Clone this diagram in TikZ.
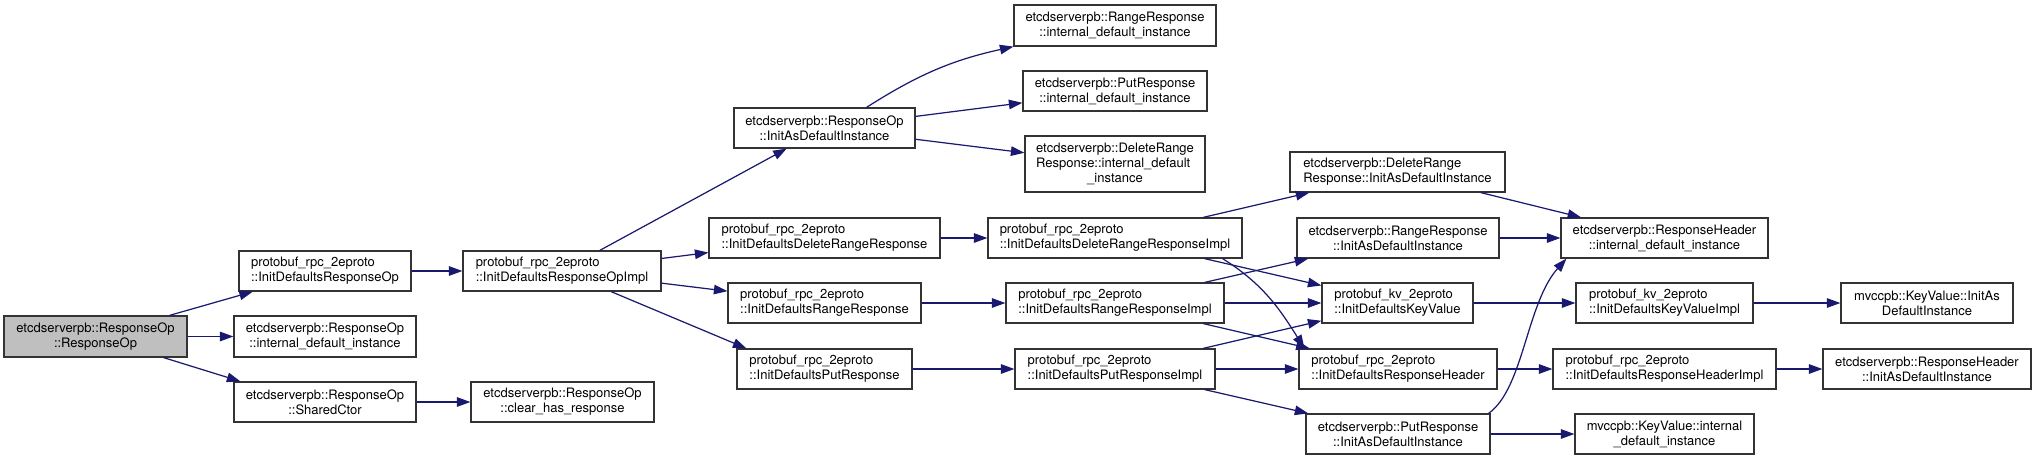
\documentclass[tikz,border=0pt]{standalone}
\usepackage{fontspec}
\setmainfont{TeX Gyre Heros}
\usetikzlibrary{arrows.meta, calc}
\definecolor{callcolor}{RGB}{25,25,112}
\definecolor{rootgray}{RGB}{191,191,191}
\tikzset{
    fnbox/.style={draw=black!80, line width=0.7pt, inner sep=0pt, align=center,
        minimum height=0.8cm, font=\fontsize{7.4}{8.5}\selectfont},
    lbox/.style={fnbox, align=left},
    call/.style={draw=callcolor, line width=0.7pt, -{Triangle[length=0.27cm, width=0.19cm]}}
}

\begin{document}
\begin{tikzpicture}[x=0.02cm, y=-0.02cm]
    \useasboundingbox (0,0) rectangle (2036,460);

    % first column
    \node[fnbox, fill=rootgray, minimum width=3.66cm, minimum height=0.82cm] (root) at (95.5,336.5) {etcdserverpb::ResponseOp\\::ResponseOp};
    \node[lbox, minimum width=3.44cm] (idRespOp) at (325,271) {protobuf\_rpc\_2eproto\\::InitDefaultsResponseOp};
    \node[fnbox, minimum width=3.64cm, minimum height=0.82cm] (rIdi) at (325,336.5) {etcdserverpb::ResponseOp\\::internal\_default\_instance};
    \node[fnbox, minimum width=3.64cm] (shared) at (325,402) {etcdserverpb::ResponseOp\\::SharedCtor};
    \node[fnbox, minimum width=3.66cm] (clear) at (562.5,402) {etcdserverpb::ResponseOp\\::clear\_has\_response};
    \node[lbox, minimum width=3.96cm] (idRespOpImpl) at (562,271) {protobuf\_rpc\_2eproto\\::InitDefaultsResponseOpImpl};

    % ResponseOp init
    \node[fnbox, minimum width=3.62cm] (rInitAs) at (824.5,128) {etcdserverpb::ResponseOp\\::InitAsDefaultInstance};
    \node[fnbox, minimum width=4.04cm, minimum height=0.82cm] (rangeIdi) at (1115,25.5) {etcdserverpb::RangeResponse\\::internal\_default\_instance};
    \node[fnbox, minimum width=3.68cm] (putIdi) at (1115,91) {etcdserverpb::PutResponse\\::internal\_default\_instance};
    \node[lbox, minimum width=3.6cm, minimum height=1.12cm] (delIdi) at (1115,164) {etcdserverpb::DeleteRange\\Response::internal\_default\\\hfill\_instance\hfill\null};

    % InitDefaults chains
    \node[lbox, minimum width=4.62cm] (idDelRR) at (824.5,238) {protobuf\_rpc\_2eproto\\::InitDefaultsDeleteRangeResponse};
    \node[lbox, minimum width=5.08cm] (idDelRRImpl) at (1115,238) {protobuf\_rpc\_2eproto\\::InitDefaultsDeleteRangeResponseImpl};
    \node[lbox, minimum width=3.86cm] (idRangeR) at (824.5,303) {protobuf\_rpc\_2eproto\\::InitDefaultsRangeResponse};
    \node[lbox, minimum width=4.36cm] (idRangeRImpl) at (1115,303) {protobuf\_rpc\_2eproto\\::InitDefaultsRangeResponseImpl};
    \node[lbox, minimum width=3.5cm] (idPutR) at (824.5,369) {protobuf\_rpc\_2eproto\\::InitDefaultsPutResponse};
    \node[lbox, minimum width=4.0cm] (idPutRImpl) at (1115,369) {protobuf\_rpc\_2eproto\\::InitDefaultsPutResponseImpl};

    % right part
    \node[lbox, minimum width=4.3cm] (delInitAs) at (1397.5,172) {etcdserverpb::DeleteRange\\Response::InitAsDefaultInstance};
    \node[fnbox, minimum width=4.04cm] (rangeInitAs) at (1398,238) {etcdserverpb::RangeResponse\\::InitAsDefaultInstance};
    \node[fnbox, minimum width=4.14cm] (hdrIdi) at (1664.5,238) {etcdserverpb::ResponseHeader\\::internal\_default\_instance};
    \node[lbox, minimum width=3.02cm] (idKV) at (1397.5,303) {protobuf\_kv\_2eproto\\::InitDefaultsKeyValue};
    \node[lbox, minimum width=3.54cm] (idKVImpl) at (1664.5,303) {protobuf\_kv\_2eproto\\::InitDefaultsKeyValueImpl};
    \node[fnbox, minimum width=3.44cm] (kvInitAs) at (1927,303) {mvccpb::KeyValue::InitAs\\DefaultInstance};
    \node[lbox, minimum width=3.96cm] (idHdr) at (1398,369) {protobuf\_rpc\_2eproto\\::InitDefaultsResponseHeader};
    \node[lbox, minimum width=4.46cm] (idHdrImpl) at (1664.5,369) {protobuf\_rpc\_2eproto\\::InitDefaultsResponseHeaderImpl};
    \node[fnbox, minimum width=4.16cm] (hdrInitAs) at (1927,369) {etcdserverpb::ResponseHeader\\::InitAsDefaultInstance};
    \node[fnbox, minimum width=3.68cm] (putInitAs) at (1398,434) {etcdserverpb::PutResponse\\::InitAsDefaultInstance};
    \node[fnbox, minimum width=3.58cm] (kvIdi) at (1664.5,434) {mvccpb::KeyValue::internal\\\_default\_instance};

    % calls
    \draw[call] (root) -- (idRespOp);
    \draw[call] (root) -- (rIdi);
    \draw[call] (root) -- ($(shared.north west)+(7,0)$);
    \draw[call] (idRespOp) -- (idRespOpImpl);
    \draw[call] (shared) -- (clear);
    \draw[call] (idRespOpImpl) -- (rInitAs);
    \draw[call] (idRespOpImpl) -- (idDelRR);
    \draw[call] (idRespOpImpl) -- (idRangeR);
    \draw[call] (idRespOpImpl) -- ($(idPutR.north west)+(10,0)$);
    \draw[call] ($(rInitAs.north)+(42,0)$) to[bend left=10] (rangeIdi.south west);
    \draw[call] (rInitAs) -- (putIdi);
    \draw[call] (rInitAs) -- (delIdi);
    \draw[call] (idDelRR) -- (idDelRRImpl);
    \draw[call] (idDelRRImpl) -- (delInitAs);
    \draw[call] (idDelRRImpl) -- (idKV);
    \draw[call] ($(idDelRRImpl.south east)+(-20,0)$) .. controls +(40,25) and +(-25,-40) .. ($(idHdr.north west)+(6,0)$);
    \draw[call] (idRangeR) -- (idRangeRImpl);
    \draw[call] (idRangeRImpl) -- (rangeInitAs);
    \draw[call] (idRangeRImpl) -- (idKV);
    \draw[call] (idRangeRImpl) -- (idHdr);
    \draw[call] (idPutR) -- (idPutRImpl);
    \draw[call] (idPutRImpl) -- (idKV);
    \draw[call] (idPutRImpl) -- (idHdr);
    \draw[call] (idPutRImpl) -- (putInitAs);
    \draw[call] (delInitAs) -- (hdrIdi);
    \draw[call] (rangeInitAs) -- (hdrIdi);
    \draw[call] ($(putInitAs.north east)+(-2,0)$) .. controls +(35,-25) and +(-40,45) .. ($(hdrIdi.south west)+(6,0)$);
    \draw[call] (putInitAs) -- (kvIdi);
    \draw[call] (idKV) -- (idKVImpl);
    \draw[call] (idKVImpl) -- (kvInitAs);
    \draw[call] (idHdr) -- (idHdrImpl);
    \draw[call] (idHdrImpl) -- (hdrInitAs);
\end{tikzpicture}
\end{document}
